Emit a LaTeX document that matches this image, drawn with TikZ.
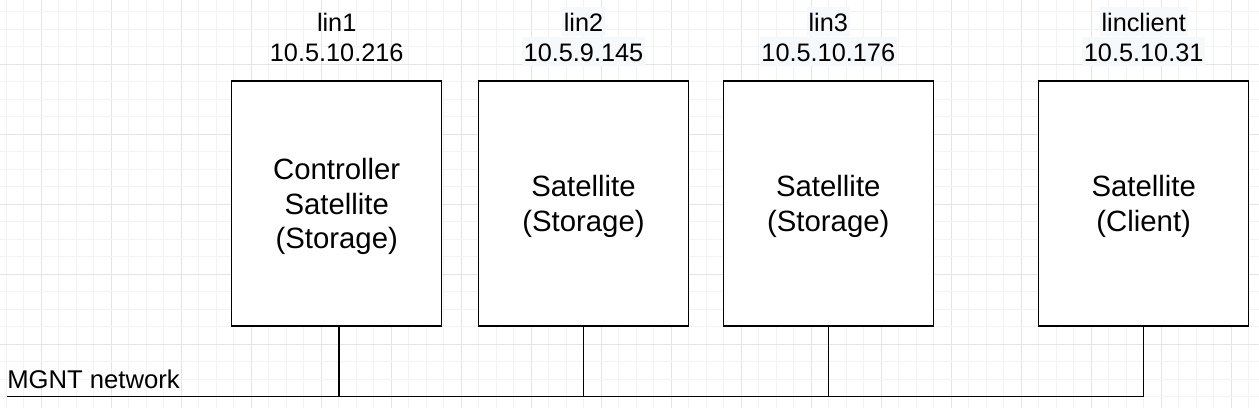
\documentclass[tikz,border=0pt]{standalone}
\usepackage{fontspec}
\setmainfont{Liberation Sans}
\usetikzlibrary{positioning}
\definecolor{gridmin}{HTML}{F3F3F3}
\definecolor{gridmaj}{HTML}{E4E4E4}
\definecolor{lblbg}{HTML}{F6F9FB}

\begin{document}
\begin{tikzpicture}[
    x=0.02cm, y=-0.02cm,
    host/.style={
      draw=black, fill=white, line width=0.8pt,
      minimum width=4.2cm, minimum height=4.9cm,
    },
    hosttxt/.style={align=center, font=\fontsize{16.7}{19.6}\selectfont},
    hname/.style={font=\fontsize{14.4}{17}\selectfont, anchor=base,
      inner xsep=1pt, inner ysep=0pt, text height=14pt, text depth=2.3pt},
    hnamebg/.style={hname, fill=lblbg},
    wire/.style={draw=black, line width=0.8pt},
  ]
  \useasboundingbox (0,0) rectangle (1259,408);
  \fill[white] (0,0) rectangle (1259,408);

  % ===== background grid =====
  \foreach \k in {0,...,71} {
    \pgfmathsetmacro\gx{6.3+17.5*\k}
    \pgfmathtruncatemacro\m{mod(\k+2,4)}
    \ifnum\m=0 \draw[gridmaj, line width=0.5pt] (\gx,0) -- (\gx,408);
    \else \draw[gridmin, line width=0.5pt] (\gx,0) -- (\gx,408); \fi
  }
  \foreach \k in {0,...,22} {
    \pgfmathsetmacro\gy{11.5+17.5*\k}
    \pgfmathtruncatemacro\m{mod(\k+1,4)}
    \ifnum\m=0 \draw[gridmaj, line width=0.5pt] (0,\gy) -- (1259,\gy);
    \else \draw[gridmin, line width=0.5pt] (0,\gy) -- (1259,\gy); \fi
  }

  % ===== hosts =====
  \node[host] (lin1) at (336.7,203.5) {};
  \node[host] (lin2) at (583.5,203.5) {};
  \node[host] (lin3) at (828.3,203.5) {};
  \node[host] (linclient) at (1143.7,203.5) {};
  \node[hosttxt] (t1) at ([yshift=-0.06cm]lin1.center) {Controller\\Satellite\\(Storage)};
  \node[hosttxt] (t2) at ([yshift=-0.06cm]lin2.center) {Satellite\\(Storage)};
  \node[hosttxt] (t3) at ([yshift=-0.06cm]lin3.center) {Satellite\\(Storage)};
  \node[hosttxt] (t4) at ([yshift=-0.06cm]linclient.center) {Satellite\\(Client)};

  % ===== names and addresses =====
  \node[hname]   (n1)  at (336.7,31.5) {lin1};
  \node[hname]   (ip1) at (336.7,61.7) {10.5.10.216};
  \node[hnamebg] (n2)  at (583.5,31.5) {lin2};
  \node[hnamebg] (ip2) at (583.5,61.7) {10.5.9.145\ };
  \node[hnamebg] (n3)  at (828.3,31.5) {lin3};
  \node[hnamebg] (ip3) at (828.3,61.7) {10.5.10.176\ };
  \node[hnamebg] (n4)  at (1143.7,31.5) {linclient};
  \node[hnamebg] (ip4) at (1143.7,61.7) {10.5.10.31\ };

  % ===== management network =====
  \node[font=\fontsize{14.6}{17}\selectfont, anchor=base west, inner sep=0pt]
    (mgnt) at (7,388.3) {MGNT network};
  \coordinate (netL) at (7,396.3);
  \draw[wire] (linclient.south) |- (netL);
  \draw[wire] ([xshift=0.05cm]lin1.south) -- ([xshift=0.05cm]lin1.south |- netL);
  \draw[wire] (lin2.south) -- (lin2.south |- netL);
  \draw[wire] (lin3.south) -- (lin3.south |- netL);
\end{tikzpicture}
\end{document}
